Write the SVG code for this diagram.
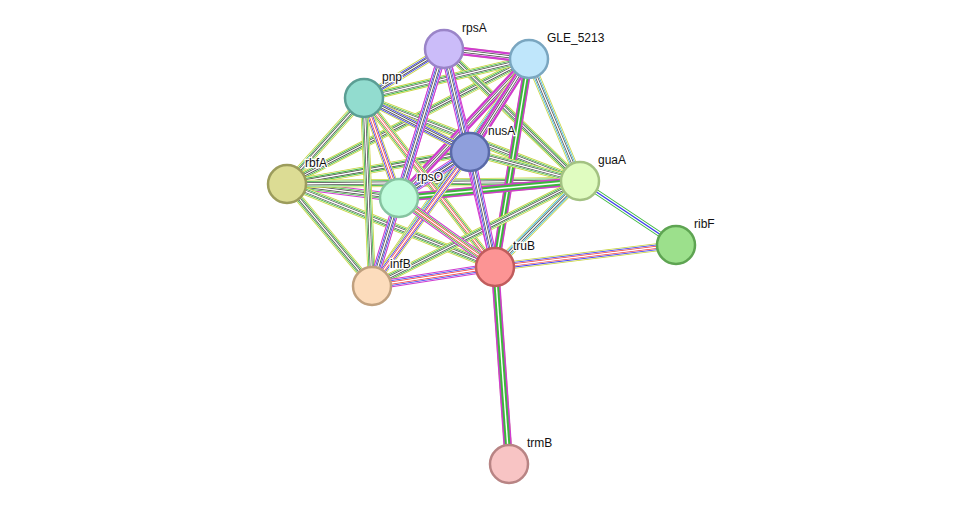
<svg xmlns="http://www.w3.org/2000/svg" xmlns:xlink="http://www.w3.org/1999/xlink" width="975" height="510" viewBox="0 0 975 510">
<style>
.e path{fill:none}
.y{stroke:#c8d43c;stroke-width:8}
.w1{stroke:#fff;stroke-width:6.4}
.g{stroke:#3cb83c;stroke-width:5.4}
.w2{stroke:#fff;stroke-width:3.8}
.k{stroke:#444;stroke-width:2.8}
.w3{stroke:#fff;stroke-width:1.4}
.m{stroke:#d03cd0;stroke-width:8.5}
.b{stroke:#3c3cf0;stroke-width:5.4}
.r{stroke:#f03c3c;stroke-width:2.8}
.c{stroke:#3cb8d8;stroke-width:5.4}
.n circle{stroke-width:2.5}
text{font-family:"Liberation Sans",Arial,sans-serif;font-size:12px;fill:#111;paint-order:stroke;stroke:#fff;stroke-width:2.5px}
</style>
<defs>
<path id="a1" d="M444 49L529 59"/>
<path id="a2" d="M444 49L364 98"/>
<path id="a3" d="M444 49L470 152"/>
<path id="a4" d="M444 49L399 198"/>
<path id="a5" d="M444 49L372 286"/>
<path id="a6" d="M444 49L495 267"/>
<path id="a7" d="M444 49L580 181"/>
<path id="b1" d="M529 59L364 98"/>
<path id="b2" d="M529 59L470 152"/>
<path id="b3" d="M529 59L399 198"/>
<path id="b4" d="M529 59L372 286"/>
<path id="b5" d="M529 59L495 267"/>
<path id="b6" d="M529 59L580 181"/>
<path id="b7" d="M529 59L287 184"/>
<path id="c1" d="M364 98L470 152"/>
<path id="c2" d="M364 98L399 198"/>
<path id="c3" d="M364 98L372 286"/>
<path id="c4" d="M364 98L495 267"/>
<path id="c5" d="M364 98L580 181"/>
<path id="c6" d="M364 98L287 184"/>
<path id="d1" d="M470 152L287 184"/>
<path id="d2" d="M470 152L399 198"/>
<path id="d3" d="M470 152L372 286"/>
<path id="d4" d="M470 152L495 267"/>
<path id="d5" d="M470 152L580 181"/>
<path id="f1" d="M287 184L399 198"/>
<path id="f2" d="M287 184L372 286"/>
<path id="f3" d="M287 184L495 267"/>
<path id="f4" d="M287 184L580 181"/>
<path id="h1" d="M399 198L580 181"/>
<path id="h2" d="M399 198L372 286"/>
<path id="h3" d="M399 198L495 267"/>
<path id="i1" d="M372 286L495 267"/>
<path id="i2" d="M372 286L580 181"/>
<path id="j1" d="M495 267L580 181"/>
<path id="j2" d="M495 267L676 245"/>
<path id="j3" d="M495 267L509 464"/>
<path id="k1" d="M580 181L676 245"/>
</defs>
<g id="connectors" class="e">
<g><use href="#b7" class="y"/><use href="#b7" class="w1"/><use href="#b7" class="g"/><use href="#b7" class="w2"/><use href="#b7" class="k"/><use href="#b7" class="w3"/></g>
<g><use href="#c6" class="y"/><use href="#c6" class="w1"/><use href="#c6" class="g"/><use href="#c6" class="w2"/><use href="#c6" class="k"/><use href="#c6" class="w3"/></g>
<g><use href="#d1" class="y"/><use href="#d1" class="w1"/><use href="#d1" class="g"/><use href="#d1" class="w2"/><use href="#d1" class="k"/><use href="#d1" class="w3"/></g>
<g><use href="#f1" class="m"/><use href="#f1" class="w1"/><use href="#f1" class="g"/><use href="#f1" class="w2"/><use href="#f1" class="k"/><use href="#f1" class="w3"/></g>
<g><use href="#f2" class="y"/><use href="#f2" class="w1"/><use href="#f2" class="g"/><use href="#f2" class="w2"/><use href="#f2" class="k"/><use href="#f2" class="w3"/></g>
<g><use href="#f3" class="y"/><use href="#f3" class="w1"/><use href="#f3" class="g"/><use href="#f3" class="w2"/><use href="#f3" class="k"/><use href="#f3" class="w3"/></g>
<g><use href="#f4" class="y"/><use href="#f4" class="w1"/><use href="#f4" class="g"/><use href="#f4" class="w2"/><use href="#f4" class="k"/><use href="#f4" class="w3"/></g>
<g><use href="#a7" class="y"/><use href="#a7" class="w1"/><use href="#a7" class="g"/><use href="#a7" class="w2"/><use href="#a7" class="k"/><use href="#a7" class="w3"/></g>
<g><use href="#c5" class="y"/><use href="#c5" class="w1"/><use href="#c5" class="g"/><use href="#c5" class="w2"/><use href="#c5" class="k"/><use href="#c5" class="w3"/></g>
<g><use href="#b1" class="y"/><use href="#b1" class="w1"/><use href="#b1" class="g"/><use href="#b1" class="w2"/><use href="#b1" class="k"/><use href="#b1" class="w3"/></g>
<g><use href="#b3" class="y"/><use href="#b3" class="w1"/><use href="#b3" class="m"/><use href="#b3" class="w2"/><use href="#b3" class="k"/><use href="#b3" class="w3"/></g>
<g><use href="#b4" class="y"/><use href="#b4" class="w1"/><use href="#b4" class="c"/><use href="#b4" class="w2"/><use href="#b4" class="k"/><use href="#b4" class="w3"/></g>
<g><use href="#b5" class="y"/><use href="#b5" class="w1"/><use href="#b5" class="m"/><use href="#b5" class="w2"/><use href="#b5" class="g"/><use href="#b5" class="w3"/></g>
<g><use href="#b6" class="y"/><use href="#b6" class="w1"/><use href="#b6" class="c"/><use href="#b6" class="w2"/><use href="#b6" class="k"/><use href="#b6" class="w3"/></g>
<g><use href="#b2" class="y"/><use href="#b2" class="w1"/><use href="#b2" class="m"/><use href="#b2" class="w2"/><use href="#b2" class="k"/><use href="#b2" class="w3"/></g>
<g><use href="#a1" class="y"/><use href="#a1" class="w1"/><use href="#a1" class="m"/><use href="#a1" class="w2"/><use href="#a1" class="k"/><use href="#a1" class="w3"/></g>
<g><use href="#a2" class="y"/><use href="#a2" class="w1"/><use href="#a2" class="b"/><use href="#a2" class="w2"/><use href="#a2" class="k"/><use href="#a2" class="w3"/></g>
<g><use href="#c1" class="y"/><use href="#c1" class="w1"/><use href="#c1" class="b"/><use href="#c1" class="w2"/><use href="#c1" class="k"/><use href="#c1" class="w3"/></g>
<g><use href="#c2" class="y"/><use href="#c2" class="w1"/><use href="#c2" class="b"/><use href="#c2" class="w2"/><use href="#c2" class="r"/><use href="#c2" class="w3"/></g>
<g><use href="#c3" class="y"/><use href="#c3" class="w1"/><use href="#c3" class="g"/><use href="#c3" class="w2"/><use href="#c3" class="k"/><use href="#c3" class="w3"/></g>
<g><use href="#c4" class="y"/><use href="#c4" class="w1"/><use href="#c4" class="g"/><use href="#c4" class="w2"/><use href="#c4" class="r"/><use href="#c4" class="w3"/></g>
<g><use href="#d5" class="y"/><use href="#d5" class="w1"/><use href="#d5" class="g"/><use href="#d5" class="w2"/><use href="#d5" class="k"/><use href="#d5" class="w3"/></g>
<g><use href="#h1" class="y"/><use href="#h1" class="w1"/><use href="#h1" class="m"/><use href="#h1" class="w2"/><use href="#h1" class="g"/><use href="#h1" class="w3"/></g>
<g><use href="#i2" class="y"/><use href="#i2" class="w1"/><use href="#i2" class="g"/><use href="#i2" class="w2"/><use href="#i2" class="k"/><use href="#i2" class="w3"/></g>
<g><use href="#j1" class="y"/><use href="#j1" class="w1"/><use href="#j1" class="c"/><use href="#j1" class="w2"/><use href="#j1" class="k"/><use href="#j1" class="w3"/></g>
<g><use href="#d2" class="m"/><use href="#d2" class="w1"/><use href="#d2" class="b"/><use href="#d2" class="w2"/><use href="#d2" class="k"/><use href="#d2" class="w3"/></g>
<g><use href="#d3" class="y"/><use href="#d3" class="w1"/><use href="#d3" class="b"/><use href="#d3" class="w2"/><use href="#d3" class="r"/><use href="#d3" class="w3"/></g>
<g><use href="#h2" class="y"/><use href="#h2" class="w1"/><use href="#h2" class="g"/><use href="#h2" class="w2"/><use href="#h2" class="k"/><use href="#h2" class="w3"/></g>
<g><use href="#h3" class="m"/><use href="#h3" class="w1"/><use href="#h3" class="g"/><use href="#h3" class="w2"/><use href="#h3" class="r"/><use href="#h3" class="w3"/></g>
<g><use href="#a3" class="m"/><use href="#a3" class="w1"/><use href="#a3" class="b"/><use href="#a3" class="w2"/><use href="#a3" class="k"/><use href="#a3" class="w3"/></g>
<g><use href="#a4" class="m"/><use href="#a4" class="w1"/><use href="#a4" class="b"/><use href="#a4" class="w2"/><use href="#a4" class="k"/><use href="#a4" class="w3"/></g>
<g><use href="#a5" class="m"/><use href="#a5" class="w1"/><use href="#a5" class="b"/><use href="#a5" class="w2"/><use href="#a5" class="k"/><use href="#a5" class="w3"/></g>
<g><use href="#a6" class="m"/><use href="#a6" class="w1"/><use href="#a6" class="b"/><use href="#a6" class="w2"/><use href="#a6" class="k"/><use href="#a6" class="w3"/></g>
<g><use href="#d4" class="m"/><use href="#d4" class="w1"/><use href="#d4" class="b"/><use href="#d4" class="w2"/><use href="#d4" class="k"/><use href="#d4" class="w3"/></g>
<g><use href="#i1" class="m"/><use href="#i1" class="w1"/><use href="#i1" class="b"/><use href="#i1" class="w2"/><use href="#i1" class="r"/><use href="#i1" class="w3"/></g>
<g><use href="#j2" class="y"/><use href="#j2" class="w1"/><use href="#j2" class="b"/><use href="#j2" class="w2"/><use href="#j2" class="r"/><use href="#j2" class="w3"/></g>
<g><use href="#j3" class="y"/><use href="#j3" class="w1"/><use href="#j3" class="m"/><use href="#j3" class="w2"/><use href="#j3" class="g"/><use href="#j3" class="w3"/></g>
<g><use href="#k1" class="g"/><use href="#k1" class="w2"/><use href="#k1" class="b" style="stroke-width:1.4"/></g>
</g>
<g class="n">
<g id="rpsA"><circle cx="444" cy="49" r="19" fill="#cbbcf9" stroke="#9a84c8"/><text x="462" y="32">rpsA</text></g>
<g id="GLE_5213"><circle cx="529" cy="59" r="19" fill="#bfe6fb" stroke="#7aa6c0"/><text x="547" y="42">GLE_5213</text></g>
<g id="pnp"><circle cx="364" cy="98" r="19" fill="#92dccf" stroke="#5b9e94"/><text x="382" y="81">pnp</text></g>
<g id="nusA"><circle cx="470" cy="152" r="19" fill="#8f9fdc" stroke="#5a6aa8"/><text x="488" y="135">nusA</text></g>
<g id="guaA"><circle cx="580" cy="181" r="19" fill="#e0fcc0" stroke="#a3c282"/><text x="598" y="164">guaA</text></g>
<g id="rbfA"><circle cx="287" cy="184" r="19" fill="#dcdc94" stroke="#9c9c5c"/><text x="305" y="167">rbfA</text></g>
<g id="rpsO"><circle cx="399" cy="198" r="19" fill="#c0fcdc" stroke="#86c4a0"/><text x="417" y="181">rpsO</text></g>
<g id="infB"><circle cx="372" cy="286" r="19" fill="#fcdcbc" stroke="#c0a07e"/><text x="390" y="268">infB</text></g>
<g id="truB"><circle cx="495" cy="267" r="19" fill="#fc9494" stroke="#c05c5c"/><text x="513" y="250">truB</text></g>
<g id="ribF"><circle cx="676" cy="245" r="19" fill="#9ce08c" stroke="#5ea452"/><text x="694" y="228">ribF</text></g>
<g id="trmB"><circle cx="509" cy="464" r="19" fill="#f8c4c4" stroke="#b88484"/><text x="527" y="447">trmB</text></g>
</g>
</svg>
